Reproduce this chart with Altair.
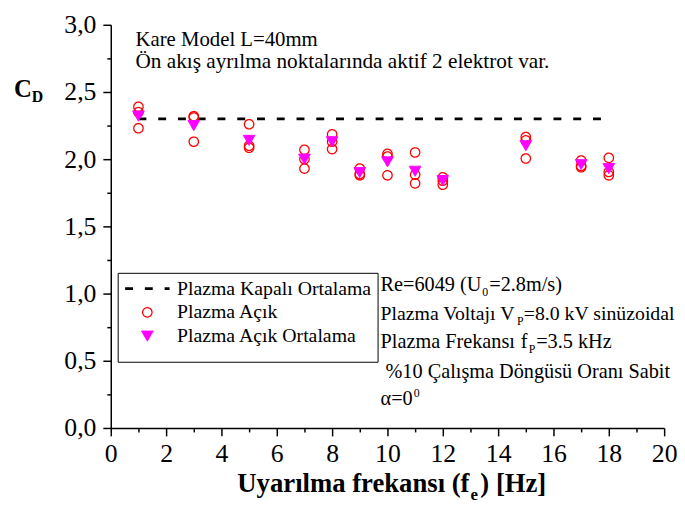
import altair as alt
import pandas as pd

# ---- data ----
freqs = [1, 3, 5, 7, 8, 9, 10, 11, 12, 15, 17, 18]
acik_1 = [2.39, 2.32, 2.26, 2.07, 2.185, 1.93, 2.04, 2.05, 1.865, 2.165, 1.99, 2.01]
acik_2 = [2.35, 2.31, 2.10, 2.00, 2.13, 1.89, 2.02, 1.885, 1.84, 2.14, 1.95, 1.905]
acik_3 = [2.23, 2.13, 2.085, 1.93, 2.075, 1.88, 1.88, 1.82, 1.81, 2.005, 1.94, 1.88]
acik_ort = [2.32, 2.25, 2.14, 2.00, 2.13, 1.90, 1.98, 1.91, 1.84, 2.10, 1.96, 1.93]
kapali_f = [1, 18]
kapali_cd = [2.30, 2.30]

names = ["Plazma Kapalı Ortalama", "Plazma Açık", "Plazma Açık Ortalama"]
x_ticks = list(range(0, 21))
y_ticks = [0, 0.25, 0.5, 0.75, 1.0, 1.25, 1.5, 1.75, 2.0, 2.25, 2.5, 2.75, 3.0]

rows = []
for run in (acik_1, acik_2, acik_3):
    for f, v in zip(freqs, run):
        rows.append({"f": f, "cd": v, "series": names[1]})
for f, v in zip(freqs, acik_ort):
    rows.append({"f": f, "cd": v, "series": names[2]})
pts = pd.DataFrame(rows)
line_df = pd.DataFrame({"f": kapali_f, "cd": kapali_cd, "series": [names[0]] * 2})

FONT = "'Liberation Serif', 'Times New Roman', serif"
LT = "\u00a0"  # blank legend title, leaves room at the bottom of the box

x_axis = alt.Axis(
    values=x_ticks, title=None, grid=False,
    labelExpr="datum.value % 2 == 0 ? datum.label : ''",
    tickSize={"condition": {"test": "datum.value % 2 != 0", "value": 4}, "value": 8},
    labelFont=FONT, labelFontSize=26, labelColor="black", labelPadding=5,
    labelOverlap=False, labelFlush=False,
    domainColor="black", domainWidth=1.5, tickColor="black", tickWidth=1.5,
)
y_axis = alt.Axis(
    values=y_ticks, title=None, grid=False,
    labelExpr="datum.value % 0.5 == 0 ? replace(format(datum.value, '.1f'), '.', ',') : ''",
    tickSize={"condition": {"test": "datum.value % 0.5 != 0", "value": 4}, "value": 8},
    labelFont=FONT, labelFontSize=26, labelColor="black", labelPadding=7,
    labelOverlap=False, labelFlush=False,
    domainColor="black", domainWidth=1.5, tickColor="black", tickWidth=1.5,
)

xs = alt.Scale(domain=[0, 20], nice=False, zero=False)
ys = alt.Scale(domain=[0, 3], nice=False, zero=False)

stroke_enc = alt.Stroke("series:N", title=LT,
                        scale=alt.Scale(domain=names, range=["black", "#ff0000", "#ff00ff"]))
dash_enc = alt.StrokeDash("series:N", title=LT,
                          scale=alt.Scale(domain=names, range=[[8, 12], [1, 0], [1, 0]]))
sw_enc = alt.StrokeWidth("series:N", title=LT,
                         scale=alt.Scale(type="ordinal", domain=names, range=[3, 1.3, 1]))

line = alt.Chart(line_df).mark_line(opacity=1).encode(
    x=alt.X("f:Q", scale=xs, axis=x_axis),
    y=alt.Y("cd:Q", scale=ys, axis=y_axis),
    stroke=stroke_enc, strokeDash=dash_enc, strokeWidth=sw_enc,
)

points = alt.Chart(pts).mark_point(filled=True, opacity=1).encode(
    x=alt.X("f:Q", scale=xs, axis=x_axis),
    y=alt.Y("cd:Q", scale=ys, axis=y_axis),
    color=alt.Color("series:N", title=LT,
                    scale=alt.Scale(domain=names, range=["transparent", "transparent", "#ff00ff"])),
    stroke=stroke_enc, strokeDash=dash_enc, strokeWidth=sw_enc,
    shape=alt.Shape("series:N", title=LT,
                    scale=alt.Scale(domain=names, range=["stroke", "circle", "triangle-down"])),
    size=alt.Size("series:N", title=LT,
                  scale=alt.Scale(type="ordinal", domain=names, range=[2025, 90, 140])),
)


def txt(s, x, y, size, weight="normal", align="left"):
    return alt.Chart(pd.DataFrame({"t": [s]})).mark_text(
        align=align, baseline="alphabetic", font=FONT, fontSize=size,
        fontWeight=weight, color="black",
    ).encode(x=alt.value(x), y=alt.value(y), text="t:N")


x0 = 273
fs = 20.5
texts = [
    txt("Kare Model L=40mm", 25, 21, 21),
    txt("Ön akış ayrılma noktalarında aktif 2 elektrot var.", 25, 44, 21.5),
    txt("Re=6049 (U", x0, 269, fs),
    txt("0", x0 + 103, 274, 12),
    txt("=2.8m/s)", x0 + 110, 269, fs),
    txt("Plazma Voltajı V", x0, 299, 20),
    txt("P", x0 + 138, 304, 12),
    txt("=8.0 kV sinüzoidal", x0 + 145, 299, 20),
    txt("Plazma Frekansı", x0, 327, fs),
    txt("f", x0 + 142, 327, fs),
    txt("P", x0 + 150, 332, 12),
    txt("=3.5 kHz", x0 + 157.5, 327, fs),
    txt("%10 Çalışma Döngüsü Oranı Sabit", x0 + 5, 357, fs),
    txt("α=0", x0, 385, fs),
    txt("0", x0 + 33.5, 377, 12),
    txt("C", -98, 73, 25, "bold"),
    txt("D", -80, 78, 16, "bold"),
    txt("Uyarılma frekansı (f", 363, 473, 27, "bold", "right"),
    txt("e", 364, 481, 17, "bold"),
    txt(") [Hz]", 374, 473, 27, "bold"),
]

chart = alt.layer(line, points, *texts).properties(
    width=560, height=408,
    autosize=alt.AutoSizeParams(type="none"),
    padding={"left": 104, "top": 14, "right": 13, "bottom": 78},
).configure_view(stroke=None).configure_legend(
    orient="none", legendX=7, legendY=251,
    strokeColor="black", strokeWidth=1, fillColor="white", padding=6,
    labelFont=FONT, labelFontSize=20, labelColor="black", labelLimit=400,
    labelOffset=6, rowPadding=4, cornerRadius=0, clipHeight=20,
    titleOrient="bottom", titleFontSize=6, titlePadding=4,
)

chart.save("out.html", embed_options={"renderer": "svg", "actions": False})
